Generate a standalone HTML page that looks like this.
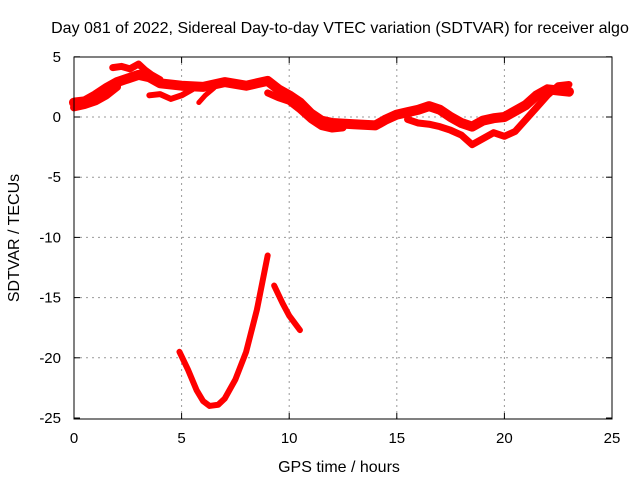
<!DOCTYPE html>
<html><head><meta charset="utf-8"><style>
body{margin:0;background:#fff}
svg text{font-family:"Liberation Sans",sans-serif;font-size:15px;fill:#000}
</style></head><body>
<svg id="chart" width="640" height="480" viewBox="0 0 640 480">
<text x="340" y="33" text-anchor="middle" style="font-size:16px">Day 081 of 2022, Sidereal Day-to-day VTEC variation (SDTVAR) for receiver algo</text>
<g id="grid"></g>
<g id="series"></g>
<rect x="74" y="57" width="538" height="362" fill="none" stroke="#000" stroke-width="1"/>
<g id="ticks"></g>
<text x="339" y="472" text-anchor="middle" style="font-size:16px">GPS time / hours</text>
<text transform="translate(19,238) rotate(-90)" text-anchor="middle" style="font-size:16px">SDTVAR / TECUs</text>
</svg>
<script>
const xTicks=[0,5,10,15,20,25];
const yTicks=[5,0,-5,-10,-15,-20,-25];
const traceMainX=[0,0.5,1,1.5,2,2.5,3,3.5,4,5,6,6.5,7,8,8.5,9,9.5,10,10.5,11,11.5,12,13,14,14.5,15,15.5,16,16.5,17,17.5,18,18.5,19,19.5,20,20.5,21,21.5,22,22.5,23];
const traceMainY=[1.2,1.3,1.8,2.4,2.9,3.2,3.5,3.3,2.8,2.6,2.5,2.7,2.9,2.6,2.8,3.0,2.3,1.8,1.2,0.3,-0.3,-0.5,-0.6,-0.7,-0.2,0.2,0.4,0.6,0.9,0.6,0.0,-0.5,-0.8,-0.3,-0.1,0.0,0.5,1.0,1.8,2.3,2.2,2.1];
const traceLowAX=[0,0.5,1,1.5,2];
const traceLowAY=[0.8,1.0,1.3,1.8,2.5];
const tracePeakX=[1.8,2.2,2.6,3.0,3.3,3.6,4.0];
const tracePeakY=[4.1,4.2,4.0,4.4,3.9,3.5,3.1];
const traceDipX=[5.8,6.1,6.5];
const traceDipY=[1.2,1.8,2.4];
const traceMidX=[3.5,4.0,4.5,5.0,5.5];
const traceMidY=[1.8,1.9,1.5,1.8,2.3];
const traceLowBX=[9.0,9.5,10,10.5,11,11.5,12,12.5];
const traceLowBY=[2.0,1.6,1.3,0.6,-0.2,-0.8,-1.0,-0.9];
const traceLowCX=[15.5,16,16.5,17,17.5,18,18.5,19,19.5,20,20.5,21,21.5,22,22.5,23];
const traceLowCY=[-0.2,-0.5,-0.6,-0.8,-1.1,-1.5,-2.3,-1.8,-1.3,-1.6,-1.2,-0.2,0.8,1.8,2.6,2.7];
const traceCurveX=[4.9,5.3,5.7,6.0,6.3,6.7,7.0,7.5,8.0,8.5,9.0];
const traceCurveY=[-19.5,-21,-22.7,-23.6,-24,-23.9,-23.4,-21.8,-19.5,-16,-11.5];
const traceCurve2X=[9.3,9.7,10,10.5];
const traceCurve2Y=[-14,-15.5,-16.5,-17.7];
const NS="http://www.w3.org/2000/svg";
const X=v=>74+v*(538/25);
const Y=v=>117-v*12.04;
const grid=document.getElementById('grid'),ticks=document.getElementById('ticks'),series=document.getElementById('series');
function mk(tag,attrs,parent){const e=document.createElementNS(NS,tag);for(const k in attrs)e.setAttribute(k,attrs[k]);parent.appendChild(e);return e;}
xTicks.forEach(t=>{
 if(t>0&&t<25){const g=mk('line',{x1:X(t),x2:X(t),y1:57,y2:419,stroke:'#999','stroke-dasharray':'2,4'},grid);
 
 }
 const a=mk('line',{x1:X(t),x2:X(t),y1:419,y2:413,stroke:'#000'},ticks);
 
 
 const b=mk('line',{x1:X(t),x2:X(t),y1:57,y2:63,stroke:'#000'},ticks);
 
 
 const l=mk('text',{x:X(t),y:443,'text-anchor':'middle'},ticks);l.textContent=t;
 
 
});
yTicks.forEach(t=>{
 if(t<5&&t>-25){const g=mk('line',{x1:74,x2:612,y1:Y(t),y2:Y(t),stroke:'#999','stroke-dasharray':'2,4'},grid);
 
 }
 const a=mk('line',{x1:74,x2:80,y1:Y(t),y2:Y(t),stroke:'#000'},ticks);
 
 
 const b=mk('line',{x1:606,x2:612,y1:Y(t),y2:Y(t),stroke:'#000'},ticks);
 
 
 const l=mk('text',{x:61,y:Y(t)+5,'text-anchor':'end'},ticks);l.textContent=t;
 
 
});
const traces=[[traceMainX,traceMainY,10],[traceLowAX,traceLowAY,8],[tracePeakX,tracePeakY,7],[traceDipX,traceDipY,5],[traceMidX,traceMidY,6],[traceLowBX,traceLowBY,7],[traceLowCX,traceLowCY,7],[traceCurveX,traceCurveY,6],[traceCurve2X,traceCurve2Y,6]];
traces.forEach(([xs,ys,w])=>{
 const p=mk('polyline',{points:xs.map((x,i)=>X(x)+','+Y(ys[i])).join(' '),fill:'none',stroke:'#f00','stroke-width':w,'stroke-linejoin':'round','stroke-linecap':'round'},series);
 
 
});
</script>
</body></html>
